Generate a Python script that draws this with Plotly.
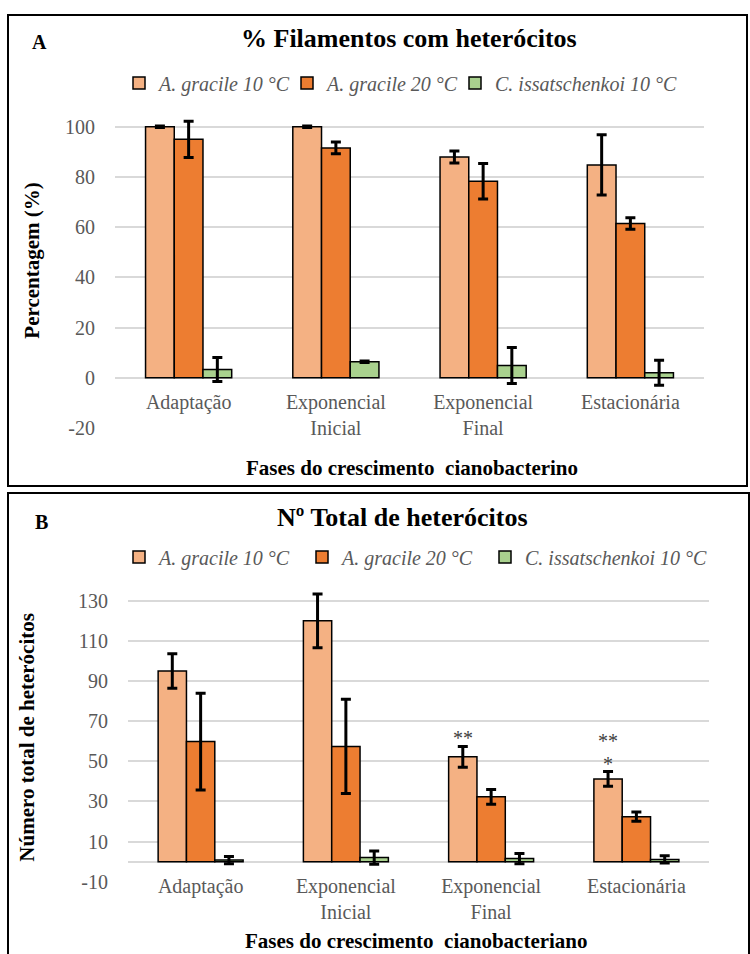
import plotly.graph_objects as go

# ---- data -------------------------------------------------------------
categories = ["Adaptação", "Exponencial<br>Inicial", "Exponencial<br>Final", "Estacionária"]
series_names = ["A. gracile 10 °C", "A. gracile 20 °C", "C. issatschenkoi 10 °C"]
series_colors = ["#F4B183", "#ED7D31", "#A9D18E"]

# Panel A: % filaments with heterocytes (mean, sd)
pct_a10 = [100.0, 100.0, 88.0, 84.8]
pct_a10_err = [0.3, 0.3, 2.4, 12.0]
pct_a20 = [95.0, 91.6, 78.3, 61.5]
pct_a20_err = [7.2, 2.3, 7.1, 2.3]
pct_c10 = [3.3, 6.4, 4.9, 2.0]
pct_c10_err = [4.8, 0.3, 7.2, 5.0]

# Panel B: total number of heterocytes (mean, sd)
tot_a10 = [95.0, 120.0, 52.2, 41.2]
tot_a10_err = [8.6, 13.4, 5.2, 3.7]
tot_a20 = [59.8, 57.4, 32.3, 22.4]
tot_a20_err = [24.1, 23.5, 3.7, 2.3]
tot_c10 = [0.8, 2.0, 1.5, 1.1]
tot_c10_err = [1.8, 3.3, 2.5, 1.8]

# significance marks over the A. gracile 10 °C bars of panel B (one list per text line)
stars_b_line1 = ["", "", "**", "**"]
stars_b_line2 = ["", "", "", "*"]

ticks_a = [-20, 0, 20, 40, 60, 80, 100]
ticks_b = [-10, 10, 30, 50, 70, 90, 110, 130]

# ---- layout helpers ---------------------------------------------------
W, H = 750, 954
SERIF = "Liberation Serif, Times New Roman, serif"
GRAY = "#595959"
GRID = "#D9D9D9"
BARGAP = 0.415


def fx(px):
    return px / W


def fy(py):
    return 1 - py / H


# panel A plot area: value -20 at y=428px, 2.51 px per unit
a_range = [-20, 104]
a_bottom, a_scale = 428.0, 2.51
a_dom_y = [fy(a_bottom), fy(a_bottom - (a_range[1] - a_range[0]) * a_scale)]
a_dom_x = [fx(115), fx(704)]

# panel B plot area: value -10 at y=881.7px, 2.007 px per unit
b_range = [-10, 137]
b_bottom, b_scale = 881.7, 2.007
b_dom_y = [fy(b_bottom), fy(b_bottom - (b_range[1] - b_range[0]) * b_scale)]
b_dom_x = [fx(128), fx(709)]


def zero_pos(rng, dom):
    return dom[0] + (0 - rng[0]) / (rng[1] - rng[0]) * (dom[1] - dom[0])


fig = go.Figure()

panel_a = [(pct_a10, pct_a10_err), (pct_a20, pct_a20_err), (pct_c10, pct_c10_err)]
panel_b = [(tot_a10, tot_a10_err), (tot_a20, tot_a20_err), (tot_c10, tot_c10_err)]
legend_widths = {"legend": [123, 123, 210], "legend2": [138, 138, 210]}

for panel, xa, ya, leg in ((panel_a, "x", "y", "legend"), (panel_b, "x2", "y2", "legend2")):
    for i, ((vals, errs), name, color) in enumerate(zip(panel, series_names, series_colors)):
        fig.add_trace(go.Bar(
            x=categories, y=vals, name=name, xaxis=xa, yaxis=ya, legend=leg,
            legendwidth=legend_widths[leg][i],
            marker=dict(color=color, line=dict(color="black", width=1.5)),
            error_y=dict(type="data", array=errs, color="black", thickness=3, width=5),
        ))

tickfont = dict(family=SERIF, size=20, color=GRAY)
xaxis_common = dict(type="category", showgrid=False, showline=False, zeroline=False,
                    ticks="", tickfont=tickfont, anchor="free", ticklabelstandoff=10,
                    automargin=False)
yaxis_common = dict(showgrid=True, gridcolor=GRID, gridwidth=1.5, showline=False,
                    zeroline=True, zerolinecolor=GRID, zerolinewidth=1.5,
                    ticks="", tickfont=tickfont, ticklabelstandoff=19, automargin=False)

legend_common = dict(orientation="h", xanchor="left", yanchor="middle",
                     bgcolor="rgba(0,0,0,0)", borderwidth=0,
                     font=dict(family=SERIF, size=20, color=GRAY, style="italic"),
                     entrywidthmode="pixels")

fig.update_layout(
    width=W, height=H,
    margin=dict(l=0, r=0, t=0, b=0, autoexpand=False),
    paper_bgcolor="white", plot_bgcolor="white",
    barmode="group", bargap=BARGAP, bargroupgap=0,
    showlegend=True,
    xaxis=dict(domain=a_dom_x, position=zero_pos(a_range, a_dom_y), **xaxis_common),
    yaxis=dict(domain=a_dom_y, range=a_range, tickvals=ticks_a,
               ticktext=[str(v) for v in ticks_a], anchor="x", **yaxis_common),
    xaxis2=dict(domain=b_dom_x, position=zero_pos(b_range, b_dom_y), **xaxis_common),
    yaxis2=dict(domain=b_dom_y, range=b_range, tickvals=ticks_b,
                ticktext=[str(v) for v in ticks_b], anchor="x2", **yaxis_common),
    legend=dict(x=fx(119), y=fy(83), **legend_common),
    legend2=dict(x=fx(119), y=fy(557), **legend_common),
)

# panel frames
fig.add_shape(type="rect", xref="paper", yref="paper",
              x0=fx(8), x1=fx(747), y0=fy(486), y1=fy(15),
              line=dict(color="black", width=2), fillcolor="rgba(0,0,0,0)", layer="below")
fig.add_shape(type="rect", xref="paper", yref="paper",
              x0=fx(8), x1=fx(749), y0=fy(970), y1=fy(493),
              line=dict(color="black", width=2), fillcolor="rgba(0,0,0,0)", layer="below")


def black_bold(size):
    return dict(family=SERIF, size=size, color="black", weight="bold")


texts = [
    ("A", 39.5, 42, 20, 0),
    ("% Filamentos com heterócitos", 409, 38, 26, 0),
    ("Fases do crescimento\u00a0 cianobacterino", 411.5, 468, 21, 0),
    ("Percentagem (%)", 31.7, 261, 21, -90),
    ("B", 41.5, 522, 20, 0),
    ("Nº Total de heterócitos", 402, 517, 26, 0),
    ("Fases do crescimento\u00a0 cianobacteriano", 416.5, 941, 21, 0),
    ("Número total de heterócitos", 26.7, 737, 21, -90),
]
for txt, px, py, size, ang in texts:
    fig.add_annotation(text=txt, x=fx(px), y=fy(py), xref="paper", yref="paper",
                       xanchor="center", yanchor="middle", showarrow=False,
                       textangle=ang, font=black_bold(size))

# significance asterisks above the first bar of each group in panel B
cat_px = (b_dom_x[1] - b_dom_x[0]) * W / len(categories)
bar_px = cat_px * (1 - BARGAP) / 3
for cat, v, e, s1, s2 in zip(categories, tot_a10, tot_a10_err, stars_b_line1, stars_b_line2):
    top = v + e
    lines = [s for s in (s2, s1) if s]
    for k, s in enumerate(lines):
        fig.add_annotation(text=s, x=cat, y=top, xref="x2", yref="y2",
                           xshift=-bar_px, yshift=-5 + 23 * k,
                           xanchor="center", yanchor="bottom", showarrow=False,
                           font=dict(family=SERIF, size=20, color="#404040"))

fig.write_html("out.html")
